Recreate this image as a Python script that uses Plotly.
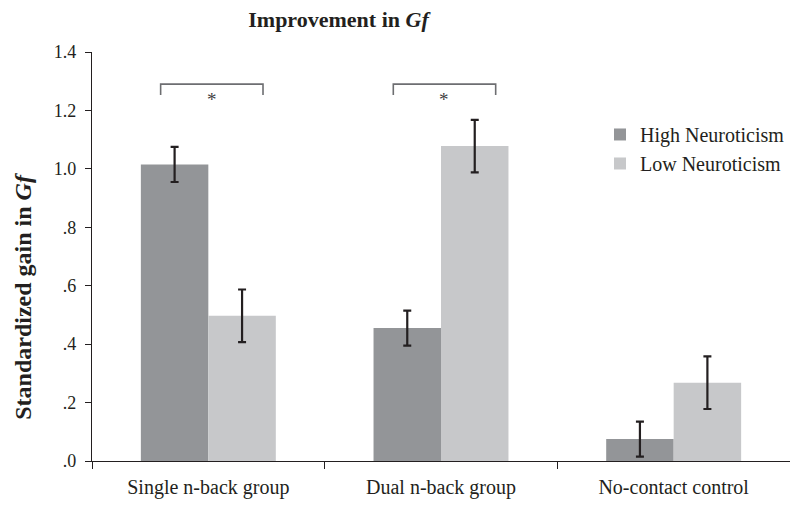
import plotly.graph_objects as go

categories = ["Single n-back group", "Dual n-back group", "No-contact control"]
high_vals = [1.015, 0.455, 0.075]
high_err = [0.06, 0.06, 0.06]
low_vals = [0.497, 1.078, 0.268]
low_err = [0.09, 0.09, 0.09]
tick_vals = [0, 0.2, 0.4, 0.6, 0.8, 1.0, 1.2, 1.4]
tick_text = [".0", ".2", ".4", ".6", ".8", "1.0", "1.2", "1.4"]
sig_groups = [0, 1]
sig_level = 1.29

FONT = "Liberation Serif, Times New Roman, serif"
HIGH_C = "#939598"
LOW_C = "#c7c8ca"
ERR_C = "#231f20"
TXT_C = "#231f20"

fig = go.Figure()
fig.add_trace(go.Bar(
    name="High Neuroticism", x=categories, y=high_vals,
    marker=dict(color=HIGH_C, line=dict(width=0)),
    error_y=dict(type="data", array=high_err, color=ERR_C, thickness=2.2, width=4),
))
fig.add_trace(go.Bar(
    name="Low Neuroticism", x=categories, y=low_vals,
    marker=dict(color=LOW_C, line=dict(width=0)),
    error_y=dict(type="data", array=low_err, color=ERR_C, thickness=2.2, width=4),
))

for g in sig_groups:
    x0 = g - 0.205
    x1 = g + 0.235
    fig.add_shape(type="path", xref="x", yref="y",
                  path=f"M {x0} {sig_level-0.037} L {x0} {sig_level} L {x1} {sig_level} L {x1} {sig_level-0.037}",
                  line=dict(color="#6d6e71", width=1.6))
    fig.add_annotation(x=(x0 + x1) / 2, y=sig_level - 0.01, xref="x", yref="y",
                       text="*", showarrow=False, yanchor="top",
                       font=dict(family=FONT, size=19, color="#414042"))

fig.add_annotation(xref="paper", yref="paper", x=-0.1, y=0.402,
                   text="<b>Standardized gain in <i>Gf</i></b>", textangle=-90,
                   showarrow=False, xanchor="center", yanchor="middle",
                   font=dict(family=FONT, size=24, color=TXT_C))

fig.update_layout(
    width=790, height=505,
    paper_bgcolor="white", plot_bgcolor="white",
    margin=dict(l=92, r=0, t=52, b=44),
    barmode="group", bargap=0.42, bargroupgap=0,
    font=dict(family=FONT, size=17, color=TXT_C),
    title=dict(text="<b>Improvement in <i>Gf</i></b>", x=338.5 / 790, xanchor="center",
               y=1 - 19 / 505, yanchor="middle",
               font=dict(family=FONT, size=22, color=TXT_C)),
    legend=dict(x=0.728, y=0.846, xanchor="left", yanchor="top",
                font=dict(family=FONT, size=20, color=TXT_C),
                bgcolor="rgba(0,0,0,0)", itemwidth=30, tracegroupgap=0),
    showlegend=True,
)
fig.update_yaxes(range=[0, 1.4], tickvals=tick_vals, ticktext=tick_text,
                 showgrid=False, zeroline=False, showline=True, linecolor=TXT_C, linewidth=1.2,
                 ticks="outside", ticklen=6, tickcolor=TXT_C, tickwidth=1.2,
                 ticklabelstandoff=5,
                 tickfont=dict(family=FONT, size=18, color=TXT_C))
fig.update_xaxes(showgrid=False, showline=True, linecolor=TXT_C, linewidth=1.2,
                 ticks="outside", tickson="boundaries", ticklen=7, tickcolor=TXT_C, tickwidth=1.2,
                 ticklabelstandoff=8,
                 tickfont=dict(family=FONT, size=20, color=TXT_C))

fig.write_html("out.html", config={"displayModeBar": False},
               post_script="document.body.style.margin='0';")
